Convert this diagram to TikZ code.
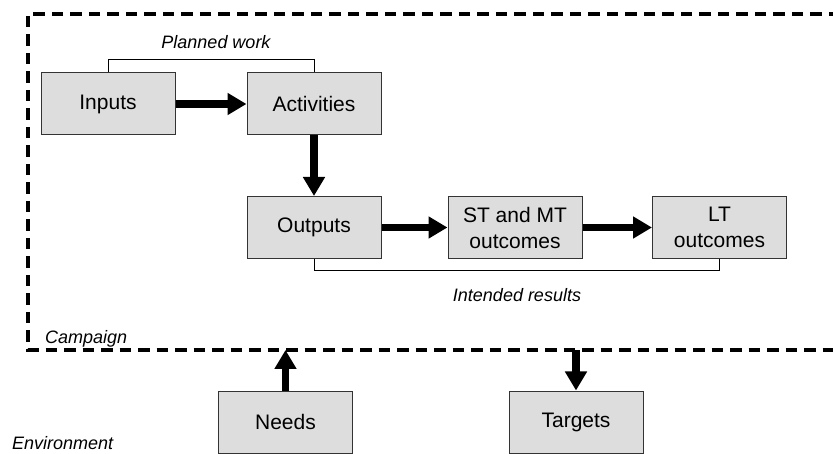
\documentclass[tikz,border=0pt]{standalone}
\usepackage{fontspec}
\setmainfont{Liberation Sans}
\usepackage{xcolor}
\usepackage{tikz}
\usetikzlibrary{arrows.meta}

\definecolor{boxfill}{HTML}{DDDDDD}
\definecolor{boxline}{HTML}{333333}

\begin{document}
\begin{tikzpicture}[
  x=1pt, y=-1pt,
  box/.style={draw=boxline, fill=boxfill, line width=1pt, minimum width=134pt,
              minimum height=62pt, align=center, inner sep=2pt,
              font=\fontsize{21}{26}\selectfont},
  lbl/.style={font=\itshape\fontsize{18}{22}\selectfont, inner sep=0pt},
  arr/.style={-{Triangle[length=19pt,width=21pt]}, line width=7.5pt},
  brk/.style={draw, line width=1pt},
  border/.style={line width=4pt, dash pattern=on 11.5pt off 7pt}
]
\useasboundingbox (0,0) rectangle (833,454);
% Campaign border (runs off to the right)
\draw[border] (840,14) -- (28,14) -- (28,350) -- (840,350);
\node[lbl, anchor=west] (campaign) at (45,339) {Campaign};
\node[lbl, anchor=base west] (env) at (12,449) {Environment};
% Row 1: planned work
\node[box] (inputs)  at (108,104)   {Inputs};
\node[box] (act)     at (314,104)   {Activities};
% Row 2: results
\node[box] (outputs) at (314,227.5) {Outputs};
\node[box] (stmt)    at (515,227.5) {ST and MT\\outcomes};
\node[box] (lt)      at (719.5,227.5) {LT\\outcomes};
% Outside
\node[box] (needs)   at (285.5,422) {Needs};
\node[box] (targets) at (576,422)   {Targets};
\coordinate (needsin)  at (needs.north |- 0,350);
\coordinate (targetsout) at (targets.north |- 0,350);
% Brackets
\draw[brk] (inputs.north) -- ++(0,-13) -| (act.north);
\node[lbl] (planned) at (216,42) {Planned work};
\draw[brk] (outputs.south) -- ++(0,12) -| (lt.south);
\node[lbl] (intended) at (517,295) {Intended results};
% Arrows
\draw[arr] (inputs) -- (act);
\draw[arr] (act) -- (outputs);
\draw[arr] (outputs) -- (stmt);
\draw[arr] (stmt) -- (lt);
\draw[arr] (needs) -- (needsin);
\draw[arr] (targetsout) -- (targets);
\end{tikzpicture}
\end{document}
